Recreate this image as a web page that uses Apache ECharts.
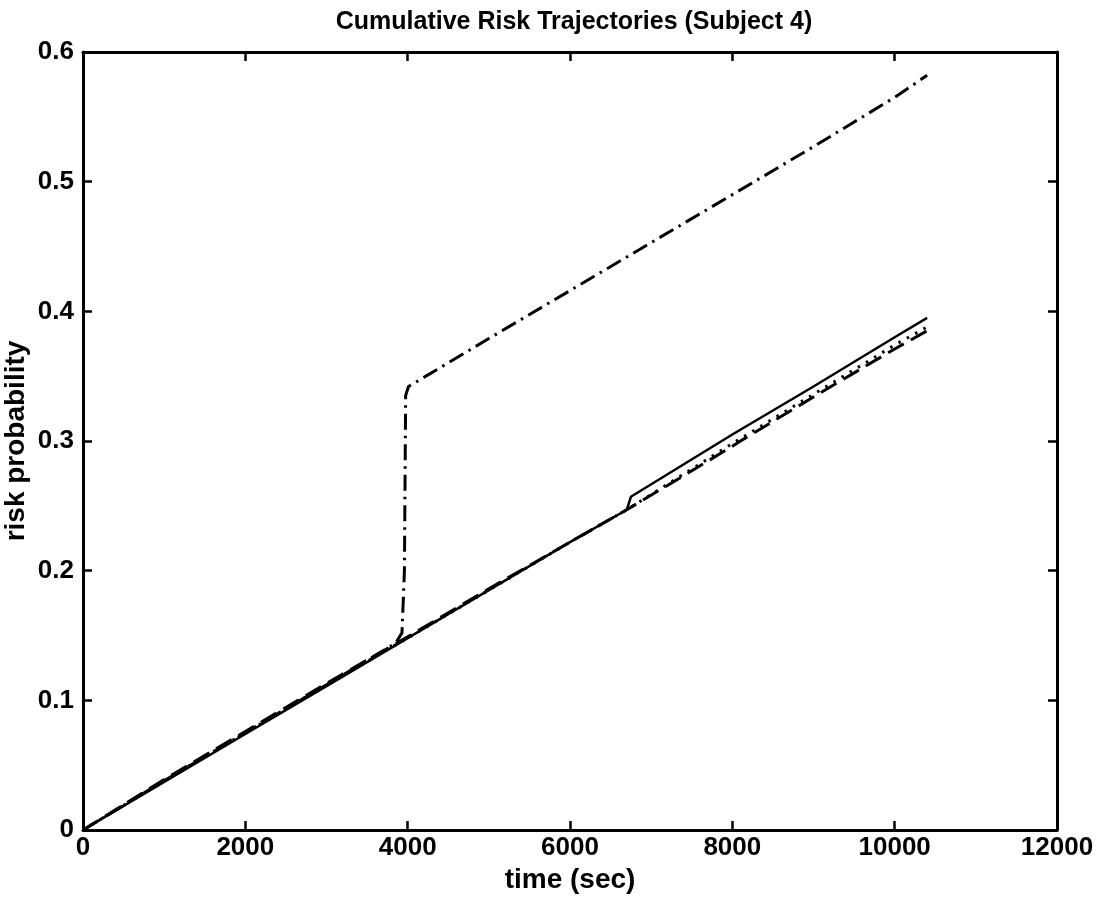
<!DOCTYPE html>
<html>
<head>
<meta charset="utf-8">
<script src="https://cdn.jsdelivr.net/npm/echarts@6/dist/echarts.min.js"></script>
<style>
  html, body { margin: 0; padding: 0; background: #fff; }
  #chart { width: 1109px; height: 902px; }
</style>
</head>
<body>
<div id="chart"></div>
<script>
// Axis ticks
const xTicks = [0, 2000, 4000, 6000, 8000, 10000, 12000];
const yTicks = [0, 0.1, 0.2, 0.3, 0.4, 0.5, 0.6];

// Trajectory 1 (solid)
const solidTime = [0, 1000, 2000, 3000, 4000, 5000, 6000, 6700, 6750, 8000, 9000, 10000, 10400];
const solidRisk = [0, 0.037, 0.074, 0.111, 0.148, 0.185, 0.222, 0.247, 0.257, 0.305, 0.342, 0.380, 0.395];

// Trajectory 2 (dashed)
const dashedTime = [0, 1000, 2000, 3000, 4000, 5000, 6000, 6700, 7500, 8000, 8100, 9000, 10000, 10400];
const dashedRisk = [0, 0.039, 0.076, 0.113, 0.149, 0.186, 0.222, 0.247, 0.277, 0.296, 0.300, 0.334, 0.371, 0.385];

// Trajectory 3 (dotted)
const dottedTime = [0, 1000, 2000, 3000, 4000, 5000, 6000, 6700, 8000, 9000, 10000, 10400];
const dottedRisk = [0, 0.038, 0.075, 0.112, 0.148, 0.185, 0.222, 0.247, 0.298, 0.336, 0.374, 0.388];

// Trajectory 4 (dash-dot)
const dashDotTime = [0, 1000, 2000, 3000, 3850, 3930, 3960, 3975, 4010, 5000, 6000, 7000, 8000, 9000, 9500, 10000, 10400];
const dashDotRisk = [0, 0.038, 0.075, 0.112, 0.144, 0.152, 0.200, 0.335, 0.342, 0.379, 0.416, 0.453, 0.490, 0.527, 0.546, 0.565, 0.582];

const pairs = (t, v) => t.map((x, i) => [x, v[i]]);

const font = 'Liberation Sans, Arial, sans-serif';
const axisLine = { show: true, onZero: false, lineStyle: { color: '#000', width: 3 } };
const axisTick = { show: true, inside: true, length: 9, lineStyle: { color: '#000', width: 2.5 } };
const labelStyle = { color: '#000', fontFamily: font, fontWeight: 'bold', fontSize: 26 };
const nameStyle = { color: '#000', fontFamily: font, fontWeight: 'bold', fontSize: 28 };

const chart = echarts.init(document.getElementById('chart'), null, { renderer: 'canvas' });

chart.setOption({
  backgroundColor: '#fff',
  animation: false,
  title: {
    text: 'Cumulative Risk Trajectories (Subject 4)',
    left: 569, top: 5, textAlign: 'center',
    textStyle: { color: '#000', fontFamily: font, fontWeight: 'bold', fontSize: 25 }
  },
  grid: { left: 83, right: 52, top: 52, bottom: 72, containLabel: false, outerBoundsMode: 'none' },
  xAxis: [
    {
      type: 'value', min: 0, max: 12000, interval: 2000, position: 'bottom',
      name: 'time (sec)', nameLocation: 'middle', nameGap: 22,
      nameTextStyle: nameStyle,
      axisLine, axisTick, splitLine: { show: false },
      axisLabel: Object.assign({ margin: 5, formatter: v => String(v) }, labelStyle)
    },
    {
      type: 'value', min: 0, max: 12000, interval: 2000, position: 'top',
      axisLine, axisTick, splitLine: { show: false }, axisLabel: { show: false }
    }
  ],
  yAxis: [
    {
      type: 'value', min: 0, max: 0.6, interval: 0.1, position: 'left',
      name: 'risk probability', nameLocation: 'middle', nameGap: 53, nameMoveOverlap: false,
      nameTextStyle: nameStyle,
      axisLine, axisTick, splitLine: { show: false },
      axisLabel: Object.assign({ margin: 9, formatter: v => String(+v.toFixed(1)) }, labelStyle)
    },
    {
      type: 'value', min: 0, max: 0.6, interval: 0.1, position: 'right',
      axisLine, axisTick, splitLine: { show: false }, axisLabel: { show: false }
    }
  ],
  series: [
    {
      type: 'line', name: 'dashed', data: pairs(dashedTime, dashedRisk), showSymbol: false,
      lineStyle: { color: '#000', width: 3, type: [18, 8] }
    },
    {
      type: 'line', name: 'dotted', data: pairs(dottedTime, dottedRisk), showSymbol: false,
      lineStyle: { color: '#000', width: 3, type: [2.5, 7] }
    },
    {
      type: 'line', name: 'dash-dot', data: pairs(dashDotTime, dashDotRisk), showSymbol: false,
      lineStyle: { color: '#000', width: 3, type: [16, 6, 2.5, 6] }
    },
    {
      type: 'line', name: 'solid', data: pairs(solidTime, solidRisk), showSymbol: false,
      lineStyle: { color: '#000', width: 2.5, type: 'solid' }
    }
  ]
});
</script>
</body>
</html>
